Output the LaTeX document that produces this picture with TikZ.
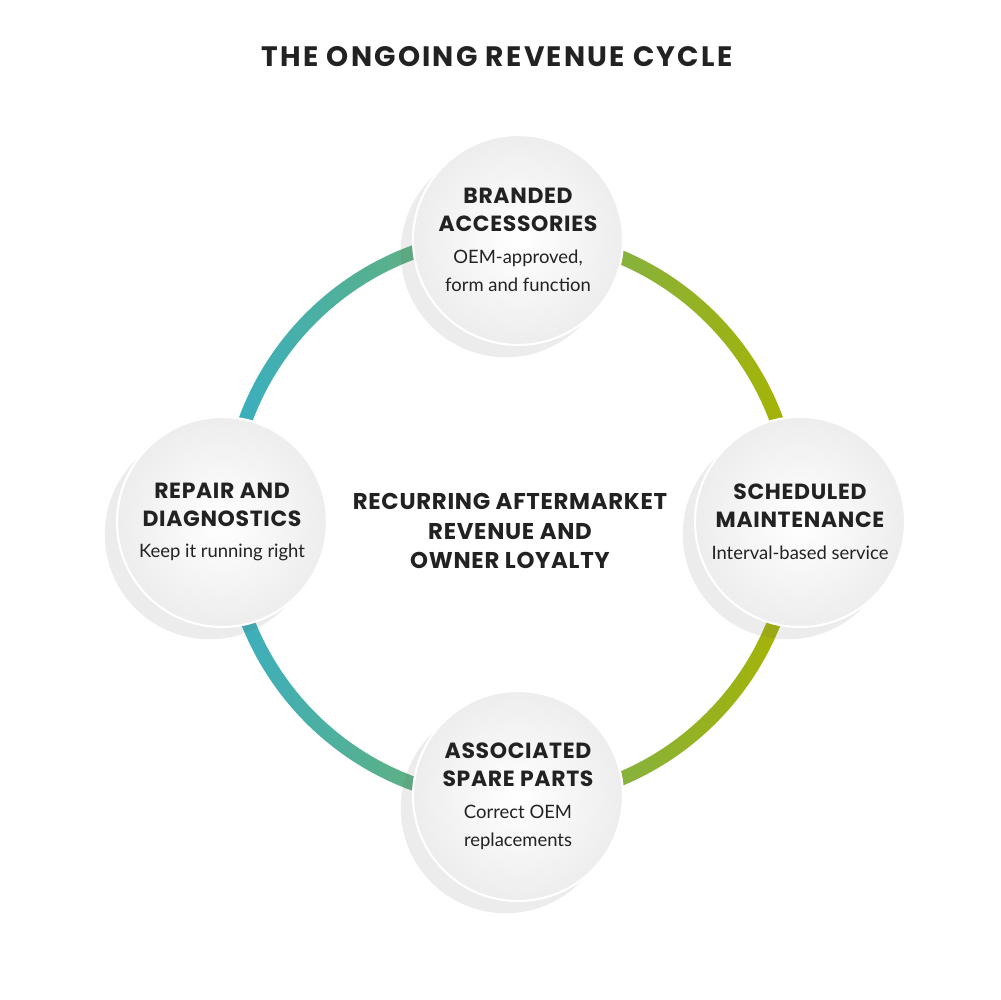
\documentclass[tikz,border=0pt]{standalone}
\usepackage{fontspec}
\setmainfont{Lato}
\newfontfamily\headfont{Poppins}[LetterSpace=3]
\newfontfamily\titlefont{Poppins}[LetterSpace=8]
\usetikzlibrary{positioning,shadows}
\definecolor{ringteal}{HTML}{38AFC4}
\definecolor{ringolive}{HTML}{A9B300}
\definecolor{ink}{HTML}{222222}

\tikzset{
  stage/.style={circle,minimum size=4.2cm,inner sep=0pt,
    shading=radial,inner color=white,outer color=gray!14,
    draw=white,line width=1.2pt,align=center,text=ink,
    font=\headfont\bfseries\fontsize{12.5}{16}\selectfont,
    drop shadow={shadow xshift=-7pt,shadow yshift=-7pt,opacity=.12,fill=gray!80!black}},
}
\newcommand{\bodytext}{\mdseries\rmfamily\fontsize{10.5}{13}\selectfont}

\begin{document}
\begin{tikzpicture}[x=0.02cm,y=-0.02cm]
  \useasboundingbox (0,0) rectangle (1000,1000);

  % title
  \node[text=ink,font=\titlefont\bfseries\fontsize{16}{20}\selectfont] (title) at (497,57) {THE ONGOING REVENUE CYCLE};

  % ring
  \coordinate (hub) at (511,518);
  \shade[left color=ringteal,right color=ringolive,even odd rule]
    (hub) circle[radius=5.8cm] (hub) circle[radius=5.52cm];

  % centre text
  \node[align=center,text=ink,font=\headfont\bfseries\fontsize{13}{17}\selectfont] (core) at (510,531)
    {RECURRING AFTERMARKET\\REVENUE AND\\OWNER LOYALTY};

  % stages
  \node[stage] (top) at (518,240) {BRANDED\\ACCESSORIES\\[2pt]\bodytext OEM-approved,\\\bodytext form and function};
  \node[stage] (right) at (800,522) {SCHEDULED\\MAINTENANCE\\[2pt]\bodytext Interval-based service};
  \node[stage] (bottom) at (518,796) {ASSOCIATED\\SPARE PARTS\\[2pt]\bodytext Correct OEM\\\bodytext replacements};
  \node[stage] (left) at (222,522) {REPAIR AND\\DIAGNOSTICS\\[2pt]\bodytext Keep it running right};
\end{tikzpicture}
\end{document}
